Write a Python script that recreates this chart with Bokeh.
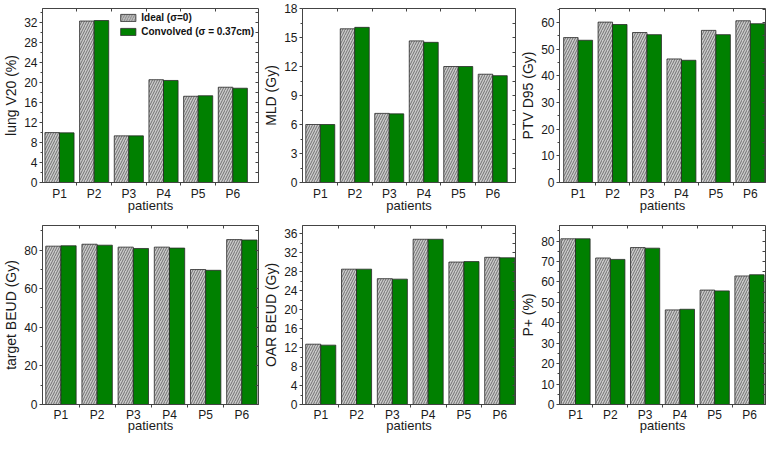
from bokeh.plotting import figure
from bokeh.layouts import column, row
from bokeh.models import (ColumnDataSource, Range1d, FixedTicker, LinearAxis,
                          Legend, LegendItem)
from bokeh.transform import dodge
from bokeh.embed import file_html
from bokeh.resources import INLINE

# ---------------- data ----------------
patients = ["P1", "P2", "P3", "P4", "P5", "P6"]

lung_v20_ideal = [9.95, 32.2, 9.3, 20.5, 17.2, 19.0]
lung_v20_conv = [9.9, 32.3, 9.3, 20.35, 17.3, 18.8]

mld_ideal = [6.0, 15.9, 7.15, 14.65, 12.0, 11.2]
mld_conv = [6.0, 16.05, 7.1, 14.5, 12.0, 11.05]

ptv_d95_ideal = [54.3, 60.1, 56.2, 46.3, 57.0, 60.6]
ptv_d95_conv = [53.3, 59.2, 55.4, 45.8, 55.4, 59.5]

target_beud_ideal = [82.0, 83.0, 81.5, 81.5, 69.9, 85.4]
target_beud_conv = [82.2, 82.5, 80.8, 81.0, 69.5, 85.2]

oar_beud_ideal = [12.7, 28.5, 26.5, 34.8, 30.0, 31.0]
oar_beud_conv = [12.5, 28.5, 26.4, 34.8, 30.1, 30.9]

p_plus_ideal = [81.1, 71.7, 76.8, 46.3, 56.0, 62.9]
p_plus_conv = [81.1, 71.0, 76.5, 46.6, 55.6, 63.5]

x_title = "patients"
legend_labels = ["Ideal (\u03c3=0)", "Convolved (\u03c3 = 0.37cm)"]

# ---------------- style ----------------
FONT = "Liberation Sans"
GREEN = "#008000"
GRAY = "#cbcbcb"
HATCH = "#666666"
EDGE = "#2a2a2a"
FRAME = "#444444"


def make_panel(ylabel, ideal, conv, ymax, ystep, xr, width, height,
               bl, br, bt, bb, xstand, xlstand, legend=False):
    n = len(patients)
    xs = list(range(1, n + 1))
    src = ColumnDataSource(dict(x=xs, patient=patients, ideal=ideal, conv=conv))
    p = figure(width=width, height=height, x_range=Range1d(*xr),
               y_range=Range1d(0, ymax), output_backend="svg",
               toolbar_location=None, min_border_left=bl, min_border_right=br,
               min_border_top=bt, min_border_bottom=bb,
               background_fill_color="white", border_fill_color="white")
    p.xgrid.visible = False
    p.ygrid.visible = False
    p.outline_line_color = FRAME
    p.outline_line_width = 1

    r1 = p.vbar(x=dodge("x", -0.21), top="ideal", width=0.42, source=src,
                fill_color=GRAY, line_color=EDGE, line_width=0.8,
                hatch_pattern="/", hatch_color=HATCH, hatch_scale=5,
                hatch_weight=0.9)
    r2 = p.vbar(x=dodge("x", 0.21), top="conv", width=0.42, source=src,
                fill_color=GREEN, line_color=EDGE, line_width=0.8)

    yt = []
    v = 0.0
    while v <= ymax + 1e-9:
        yt.append(v)
        v += ystep
    ymin_t = [t + ystep / 2 for t in yt if t + ystep / 2 <= ymax]
    yticker = FixedTicker(ticks=yt, minor_ticks=ymin_t)
    xbound = [x + 0.5 for x in xs[:-1]]
    xticker = FixedTicker(ticks=xs, minor_ticks=xbound)

    p.yaxis.ticker = yticker
    p.xaxis.ticker = xticker
    p.xaxis.major_label_overrides = {x: lab for x, lab in zip(xs, patients)}

    for ax in (p.xaxis[0], p.yaxis[0]):
        ax.axis_line_color = FRAME
        ax.major_tick_line_color = FRAME
        ax.minor_tick_line_color = FRAME
        ax.major_label_text_font = FONT
        ax.major_label_text_font_size = "12px"
        ax.major_label_text_color = "#1a1a1a"
        ax.axis_label_text_font = FONT
        ax.axis_label_text_font_style = "normal"
        ax.axis_label_text_color = "#1a1a1a"
    p.yaxis.major_tick_out = 3
    p.yaxis.major_tick_in = 0
    p.yaxis.minor_tick_out = 2
    p.yaxis.minor_tick_in = 0
    p.yaxis.major_label_standoff = 2
    p.yaxis.axis_label = ylabel
    p.yaxis.axis_label_text_font_size = "14px"
    p.yaxis.axis_label_standoff = 2

    p.xaxis.major_tick_out = 0
    p.xaxis.major_tick_in = 0
    p.xaxis.minor_tick_out = 3
    p.xaxis.minor_tick_in = 0
    p.xaxis.major_label_standoff = xstand
    p.xaxis.axis_label = x_title
    p.xaxis.axis_label_text_font_size = "13px"
    p.xaxis.axis_label_standoff = xlstand

    # mirrored tick marks on the right and top edges (tick marks only)
    rax = LinearAxis(ticker=FixedTicker(ticks=[], minor_ticks=yt + ymin_t),
                     axis_line_color=None, major_label_standoff=0,
                     major_tick_in=0, major_tick_out=0, minor_tick_in=3,
                     minor_tick_out=0, minor_tick_line_color=FRAME)
    p.add_layout(rax, "right")
    tax = LinearAxis(ticker=FixedTicker(ticks=[], minor_ticks=xbound),
                     axis_line_color=None, major_label_standoff=0,
                     major_tick_in=0, major_tick_out=0, minor_tick_in=3,
                     minor_tick_out=0, minor_tick_line_color=FRAME)
    p.add_layout(tax, "above")

    if legend:
        lg = Legend(items=[LegendItem(label=legend_labels[0], renderers=[r1]),
                           LegendItem(label=legend_labels[1], renderers=[r2])],
                    location="top_right", margin=4, padding=2, spacing=3,
                    glyph_width=19, glyph_height=9, label_standoff=4,
                    label_height=10, label_text_font=FONT,
                    label_text_font_size="10px", label_text_font_style="bold",
                    label_text_color="#111111", border_line_color=None,
                    background_fill_alpha=0)
        p.add_layout(lg)
    return p


H0, H1 = 216, 220
W0, W1, W2 = 260, 257, 250
p1 = make_panel("lung V20 (%)", lung_v20_ideal, lung_v20_conv, 34.7, 4,
                (0.51, 6.74), W0, H0, 38, 2, 8, 34, 1, -6, legend=True)
p2 = make_panel("MLD (Gy)", mld_ideal, mld_conv, 18, 3,
                (0.485, 6.66), W1, H0, 38, 2, 8, 34, 1, -6)
p3 = make_panel("PTV D95 (Gy)", ptv_d95_ideal, ptv_d95_conv, 65.2, 10,
                (0.46, 6.44), W2, H0, 42, 2, 8, 34, 1, -6)
p4 = make_panel("target BEUD (Gy)", target_beud_ideal, target_beud_conv, 92.7, 20,
                (0.49, 6.46), W0, H1, 38, 2, 9, 32, 0, -7)
p5 = make_panel("OAR BEUD (Gy)", oar_beud_ideal, oar_beud_conv, 37.7, 4,
                (0.49, 6.44), W1, H1, 38, 2, 9, 32, 0, -7)
p6 = make_panel("P+ (%)", p_plus_ideal, p_plus_conv, 87.6, 10,
                (0.54, 6.46), W2, H1, 42, 2, 9, 32, 0, -7)

layout = column(row(p1, p2, p3), row(p4, p5, p6))
open("out.html", "w").write(file_html(layout, INLINE))
